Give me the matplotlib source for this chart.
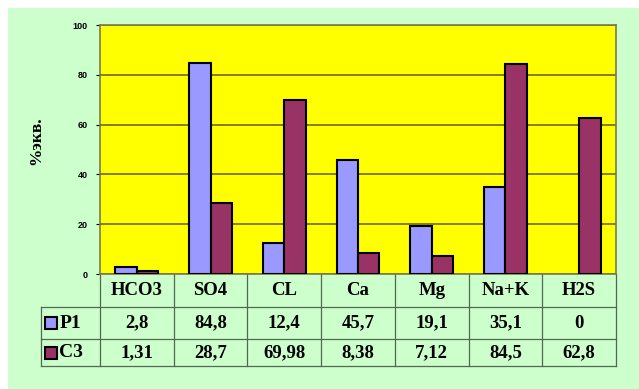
import matplotlib
matplotlib.use("Agg")
import matplotlib.pyplot as plt
import matplotlib.transforms as mtransforms
from matplotlib.patches import Rectangle

categories = ["HCO3", "SO4", "CL", "Ca", "Mg", "Na+K", "H2S"]
series_names = ["P1", "C3"]
p1_values = [2.8, 84.8, 12.4, 45.7, 19.1, 35.1, 0]
c3_values = [1.31, 28.7, 69.98, 8.38, 7.12, 84.5, 62.8]
p1_labels = ["2,8", "84,8", "12,4", "45,7", "19,1", "35,1", "0"]
c3_labels = ["1,31", "28,7", "69,98", "8,38", "7,12", "84,5", "62,8"]
y_ticks = [0, 20, 40, 60, 80, 100]

W, H = 639, 389
BG = "#ccffcc"
YELLOW = "#ffff00"
P1_COLOR = "#9999ff"
C3_COLOR = "#993366"
GRID = "#6e6a00"
LINE = "#4f6a4f"

fig = plt.figure(figsize=(W / 100, H / 100), dpi=100, facecolor="white")
fig.patches.append(Rectangle((8 / W, 0), 1, 1 - 8 / H, transform=fig.transFigure,
                             facecolor=BG, edgecolor="none", zorder=-10))

ax = fig.add_axes([100 / W, (H - 274) / H, 516 / W, 249 / H])
ax.set_facecolor(YELLOW)
ax.set_xlim(-0.5, len(categories) - 0.5)
ax.set_ylim(0, 100)

bw = 0.29
xs = list(range(len(categories)))
ax.bar([x - bw / 2 for x in xs], p1_values, width=bw, color=P1_COLOR,
       edgecolor="black", linewidth=[1.5 if v else 0 for v in p1_values], zorder=3)
ax.bar([x + bw / 2 for x in xs], c3_values, width=bw, color=C3_COLOR,
       edgecolor="black", linewidth=[1.5 if v else 0 for v in c3_values], zorder=3)

ax.set_yticks(y_ticks)
ax.set_yticklabels([str(t) for t in y_ticks], fontsize=6.5, fontweight="bold",
                   family="Liberation Sans")
ax.yaxis.grid(True, color=GRID, linewidth=1.2, zorder=1)
ax.tick_params(axis="y", length=3, width=0.8, pad=6)
ax.set_xticks([])
for side, sp in ax.spines.items():
    sp.set_color("#7a7a50")
    sp.set_linewidth(1.2)

fig.text(36 / W, 1 - 141 / H, "%экв.", rotation=90, ha="center", va="center",
         fontsize=12.5, fontweight="bold", family="Liberation Serif")

# data table under the plot
tr = mtransforms.blended_transform_factory(ax.transData, ax.transAxes)
row_y = [0, -33 / 249, -65 / 249, -92 / 249]
left_x = -1.3
xl, xr = -0.5, len(categories) - 0.5
lkw = dict(transform=tr, color=LINE, linewidth=0.9, clip_on=False)

ax.plot([xl, xl], [row_y[0], row_y[3]], **lkw)
ax.plot([xr, xr], [row_y[0], row_y[3]], **lkw)
for i in range(1, len(categories)):
    ax.plot([i - 0.5, i - 0.5], [row_y[0], row_y[3]], **lkw)
ax.plot([left_x, xr], [row_y[1], row_y[1]], **lkw)
ax.plot([left_x, xr], [row_y[2], row_y[2]], **lkw)
ax.plot([left_x, xr], [row_y[3], row_y[3]], **lkw)
ax.plot([left_x, left_x], [row_y[1], row_y[3]], **lkw)

tkw = dict(transform=tr, ha="center", va="center", fontsize=13.5,
           fontweight="bold", family="Liberation Serif", clip_on=False)
for i, cat in enumerate(categories):
    ax.text(i, (row_y[0] + row_y[1]) / 2, cat, **tkw)
    ax.text(i, (row_y[1] + row_y[2]) / 2, p1_labels[i], **tkw)
    ax.text(i, (row_y[2] + row_y[3]) / 2, c3_labels[i], **tkw)

key_w = 0.15
key_h = 12 / 249
for r, (name, col) in enumerate(zip(series_names, [P1_COLOR, C3_COLOR])):
    yc = (row_y[r + 1] + row_y[r + 2]) / 2
    ax.add_patch(Rectangle((left_x + 0.06, yc - key_h / 2), key_w, key_h,
                           transform=tr, facecolor=col, edgecolor="black",
                           linewidth=1.5, clip_on=False))
    ax.text(left_x + 0.25, yc, name, transform=tr, ha="left", va="center",
            fontsize=14, fontweight="bold", family="Liberation Serif",
            clip_on=False)

fig.savefig("out.png", dpi=100, facecolor=fig.get_facecolor())
